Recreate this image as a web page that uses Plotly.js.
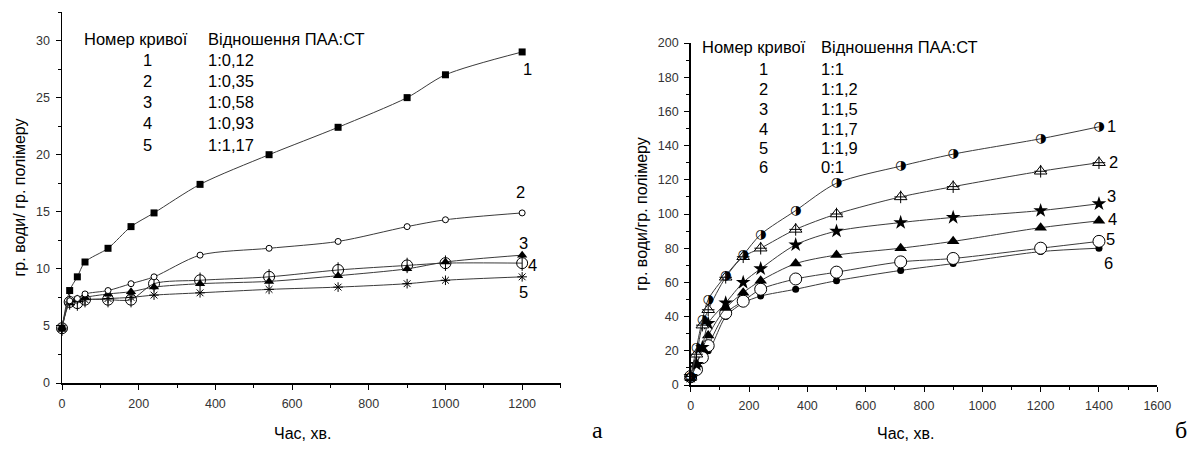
<!DOCTYPE html>
<html><head><meta charset="utf-8">
<script src="https://cdn.plot.ly/plotly-3.0.1.min.js"></script>
<style>html,body{margin:0;padding:0;background:#fff}#chart{width:1195px;height:450px}</style>
</head><body><div id="chart"></div>
<script>
// ---- Left panel (а) ----
const timeLeft = [0, 20, 40, 60, 120, 180, 240, 360, 540, 720, 900, 1000, 1200];
const left1 = [4.8, 8.1, 9.3, 10.6, 11.8, 13.7, 14.9, 17.4, 20.0, 22.4, 25.0, 27.0, 29.0];
const left2 = [4.8, 7.2, 7.4, 7.8, 8.1, 8.7, 9.3, 11.2, 11.8, 12.4, 13.7, 14.3, 14.9];
const left3 = [4.8, 7.0, 7.3, 7.5, 7.8, 8.0, 8.4, 8.7, 8.9, 9.4, 10.0, 10.6, 11.2];
const left4 = [4.8, 7.1, 7.0, 7.3, 7.3, 7.3, 8.7, 9.0, 9.3, 9.9, 10.3, 10.5, 10.5];
const left5 = [4.8, 7.1, 7.3, 7.3, 7.4, 7.5, 7.7, 7.9, 8.2, 8.4, 8.7, 9.0, 9.3];
const leftCurveNums = ['1', '2', '3', '4', '5'];
const leftRatios = ['1:0,12', '1:0,35', '1:0,58', '1:0,93', '1:1,17'];

// ---- Right panel (б) ----
const timeRight = [0, 20, 40, 60, 120, 180, 240, 360, 500, 720, 900, 1200, 1400];
const right1 = [5, 22, 38, 50, 64, 76, 88, 102, 118, 128, 135, 144, 151];
const right2 = [5, 18, 35, 44, 63, 75, 80, 91, 100, 110, 116, 125, 130];
const right3 = [5, 12, 22, 36, 48, 60, 68, 82, 90, 95, 98, 102, 106];
const right4 = [4, 12, 21, 29, 45, 54, 61, 71, 76, 80, 84, 92, 96];
const right5 = [5, 9, 16, 23, 42, 49, 56, 62, 66, 72, 74, 80, 84];
const right6 = [3, 13, 20, 20, 40, 48, 52, 56, 61, 67, 71, 78, 80];
const rightCurveNums = ['1', '2', '3', '4', '5', '6'];
const rightRatios = ['1:1', '1:1,2', '1:1,5', '1:1,7', '1:1,9', '0:1'];

const headerCol1 = 'Номер кривої';
const headerCol2 = 'Відношення ПАА:СТ';
const xTitle = 'Час, хв.';
const yTitleLeft = 'гр. води/ гр. полімеру';
const yTitleRight = 'гр. води/гр. полімеру';

const W = 1195, H = 450;
const px = x => x / W;
const py = y => 1 - y / H;
const FONT = 'Liberation Sans, Arial, sans-serif';
const LINE = {color: '#3a3a3a', width: 1, shape: 'spline', smoothing: 0.8};

function tr(x, y, ax, marker, mode) {
  return {x: x, y: y, xaxis: ax[0], yaxis: ax[1], mode: mode || 'lines+markers',
    line: LINE, marker: marker, hoverinfo: 'x+y', cliponaxis: false};
}
const L = ['x', 'y'], R = ['x2', 'y2'];
const mline = {color: '#000', width: 1};

const traces = [
  tr(timeLeft, left5, L, {symbol: 'asterisk-open', size: 8, line: mline, color: '#000'}),
  tr(timeLeft, left4, L, {symbol: 'circle-open', size: 11, line: mline, color: '#000'}),
  tr(timeLeft, left4, L, {symbol: 'line-ns-open', size: 11, line: mline, color: '#000'}, 'markers'),
  tr(timeLeft, left3, L, {symbol: 'triangle-up', size: 9, color: '#000', line: {width: 0}}),
  tr(timeLeft, left2, L, {symbol: 'circle', size: 6, color: '#fff', line: mline}),
  tr(timeLeft, left1, L, {symbol: 'square', size: 7, color: '#000', line: {width: 0}}),

  tr(timeRight, right6, R, {symbol: 'circle', size: 7, color: '#000', line: {width: 0}}),
  tr(timeRight, right5, R, {symbol: 'circle', size: 12, color: '#fff', line: mline}),
  tr(timeRight, right4, R, {symbol: 'triangle-up', size: 11, color: '#000', line: {width: 0}}),
  tr(timeRight, right3, R, {symbol: 'star', size: 11, color: '#000', line: {width: 0}}),
  tr(timeRight, right2, R, {symbol: 'triangle-up', size: 11, color: '#fff', line: mline}),
  tr(timeRight, right2, R, {symbol: 'cross-thin-open', size: 9, line: mline, color: '#000'}, 'markers'),
  Object.assign(tr(timeRight, right1, R, {symbol: 'circle', size: 1, color: 'rgba(0,0,0,0)'}, 'lines+text'),
    {text: timeRight.map(() => '◑'), textposition: 'middle center',
     textfont: {family: 'DejaVu Sans', size: 13, color: '#000'}})
];

function axisBase(extra) {
  return Object.assign({
    showline: true, linecolor: '#000', linewidth: 1.5, ticks: 'outside', ticklen: 5,
    tickwidth: 1, tickcolor: '#000', showgrid: false, zeroline: false, mirror: false,
    tickfont: {family: FONT, size: 12.5, color: '#333'}, ticklabelstandoff: 3,
    fixedrange: true
  }, extra);
}

const annotations = [];
const TXT = 16.5;
function ann(text, x, y, opts) {
  annotations.push(Object.assign({text: text, x: px(x), y: py(y), xref: 'paper', yref: 'paper',
    showarrow: false, xanchor: 'left', yanchor: 'middle',
    font: {family: FONT, size: TXT, color: '#000'}}, opts || {}));
}
// Left legend table
ann(headerCol1, 82, 39);
ann(headerCol2, 206, 39);
const leftRowsY = [60, 81, 102, 123, 145];
leftCurveNums.forEach((n, i) => { ann(n, 147, leftRowsY[i], {xanchor: 'center'}); ann(leftRatios[i], 206, leftRowsY[i]); });
// Right legend table
ann(headerCol1, 700, 47);
ann(headerCol2, 819, 47);
const rightRowsY = [69, 89, 109, 129, 148, 167];
rightCurveNums.forEach((n, i) => { ann(n, 763, rightRowsY[i], {xanchor: 'center'}); ann(rightRatios[i], 819, rightRowsY[i]); });
// Curve end labels
const leftLbl = [[527, 69], [520, 192], [523, 243], [532, 265], [523, 292]];
leftLbl.forEach((p, i) => ann(leftCurveNums[i], p[0], p[1], {xanchor: 'center'}));
const rightLbl = [[1111, 126], [1113, 162], [1111, 196], [1112, 219], [1110, 239], [1108, 263]];
rightLbl.forEach((p, i) => ann(rightCurveNums[i], p[0], p[1], {xanchor: 'center'}));
// x titles
ann(xTitle, 302, 433, {xanchor: 'center', font: {family: FONT, size: 16, color: '#000'}});
ann(xTitle, 905, 433, {xanchor: 'center', font: {family: FONT, size: 16, color: '#000'}});
// panel letters
ann('а', 598, 430, {xanchor: 'center', font: {family: 'Liberation Serif, Times New Roman, serif', size: 24, color: '#000'}});
ann('б', 1181, 430, {xanchor: 'center', font: {family: 'Liberation Serif, Times New Roman, serif', size: 24, color: '#000'}});

const layout = {
  width: W, height: H, margin: {l: 0, r: 0, t: 0, b: 0},
  paper_bgcolor: '#fff', plot_bgcolor: 'rgba(0,0,0,0)', showlegend: false,
  xaxis: axisBase({domain: [px(62), px(560.5)], range: [0, 1300], dtick: 200, tick0: 0, anchor: 'y',
    minor: {dtick: 100, ticklen: 3, ticks: 'outside', tickcolor: '#000', showgrid: false}}),
  yaxis: axisBase({domain: [py(383), py(12)], range: [0, 32.5], dtick: 5, tick0: 0, anchor: 'x',
    minor: {dtick: 2.5, ticklen: 3, ticks: 'outside', tickcolor: '#000', showgrid: false},
    title: {text: yTitleLeft, standoff: 6, font: {family: FONT, size: 16, color: '#000'}}}),
  xaxis2: axisBase({domain: [px(690.7), px(1157.3)], range: [0, 1600], dtick: 200, tick0: 0, anchor: 'y2',
    minor: {dtick: 100, ticklen: 3, ticks: 'outside', tickcolor: '#000', showgrid: false}}),
  yaxis2: axisBase({domain: [py(385), py(43)], range: [0, 200], dtick: 20, tick0: 0, anchor: 'x2',
    minor: {dtick: 10, ticklen: 3, ticks: 'outside', tickcolor: '#000', showgrid: false},
    title: {text: yTitleRight, standoff: 6, font: {family: FONT, size: 16, color: '#000'}}}),
  annotations: annotations
};
Plotly.newPlot('chart', traces, layout, {displayModeBar: false, staticPlot: true});
</script></body></html>
